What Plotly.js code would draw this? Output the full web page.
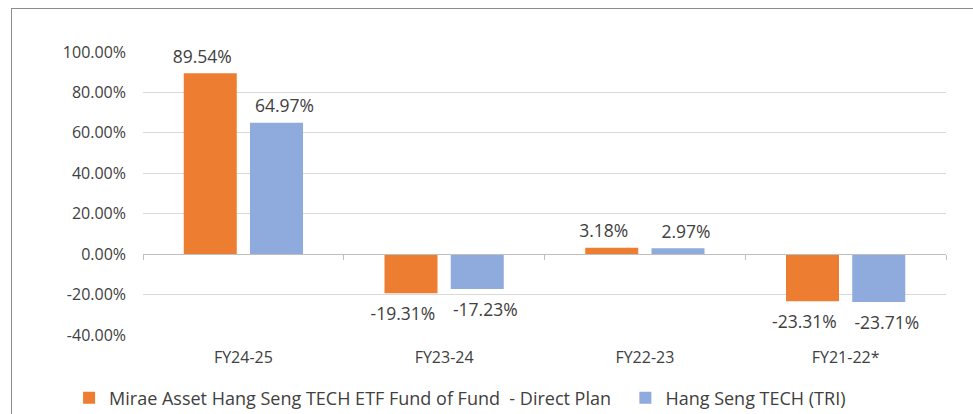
<!DOCTYPE html>
<html>
<head>
<meta charset="utf-8">
<script src="https://cdn.plot.ly/plotly-3.0.1.min.js"></script>
<style>
  html, body { margin: 0; padding: 0; background: #fff; }
  #chart { width: 973px; height: 414px; }
  #frame { position: absolute; left: 11px; top: 8px; width: 980px; height: 430px;
           border-left: 1px solid #8c8c8c; border-top: 1px solid #8c8c8c; pointer-events: none; }
</style>
</head>
<body>
<div id="chart"></div>
<div id="frame"></div>
<script>
const categories = ["FY24-25", "FY23-24", "FY22-23", "FY21-22*"];
const fundName = "Mirae Asset Hang Seng TECH ETF Fund of Fund \u00a0- Direct Plan\u00a0\u00a0";
const benchName = "Hang Seng TECH (TRI)";
const fundValues = [89.54, -19.31, 3.18, -23.31];
const benchValues = [64.97, -17.23, 2.97, -23.71];
const yTickVals = [-40, -20, 0, 20, 40, 60, 80, 100];
const yTickText = ["-40.00%", "-20.00%", "0.00%", "20.00%", "40.00%", "60.00%", "80.00%", "100.00%"];

const ORANGE = "#ED7D31", BLUE = "#8FAADC";
const FONT = "'Open Sans', Lato, sans-serif";
const TXT = "#404040";
const fmt = v => v.toFixed(2) + "%";
const pos = vals => vals.map(v => v >= 0 ? "top center" : "bottom center");
const gapSize = vals => vals.map(v => v >= 0 ? 8 : 20);

const labelTrace = vals => ({
  type: "scatter", mode: "markers+text", x: categories, y: vals,
  text: vals.map(fmt), textposition: pos(vals),
  marker: { size: gapSize(vals), color: "rgba(0,0,0,0)", opacity: 0,
            line: { width: 0, color: "rgba(0,0,0,0)" } },
  showlegend: false, hoverinfo: "skip",
  textfont: { family: FONT, size: 17.5, color: TXT }, cliponaxis: false
});

const traces = [
  { type: "bar", name: fundName, x: categories, y: fundValues,
    marker: { color: ORANGE }, hoverinfo: "skip" },
  { type: "bar", name: benchName, x: categories, y: benchValues,
    marker: { color: BLUE }, hoverinfo: "skip" },
  labelTrace(fundValues),
  labelTrace(benchValues),
  { type: "scatter", mode: "markers", x: categories, y: [null, null, null, null],
    xaxis: "x2", yaxis: "y", showlegend: false, hoverinfo: "skip" }
];

const layout = {
  width: 973, height: 414,
  margin: { l: 143, r: 27, t: 52, b: 79, autoexpand: false },
  paper_bgcolor: "#ffffff", plot_bgcolor: "#ffffff",
  font: { family: FONT, size: 16, color: TXT },
  barmode: "group", bargap: 0.34, bargroupgap: 0.2,
  scattermode: "group", scattergap: 0.18,
  showlegend: true,
  legend: { orientation: "h", xref: "container", yref: "container",
            x: 0.071, xanchor: "left", y: 1 - 398 / 414, yanchor: "middle",
            font: { family: FONT, size: 18, color: TXT }, traceorder: "normal",
            itemwidth: 30 },
  xaxis: { type: "category", categoryarray: categories, range: [-0.5, 3.5],
           showgrid: false, zeroline: false, showline: false, ticks: "",
           ticklabelstandoff: 11,
           tickfont: { family: FONT, size: 16, color: TXT }, fixedrange: true },
  xaxis2: { type: "category", categoryarray: categories, range: [-0.5, 3.5],
            overlaying: "x", anchor: "free", position: 40 / 140,
            showline: true, linecolor: "#BFBFBF", linewidth: 1,
            ticks: "outside", tickson: "boundaries", ticklen: 5, tickcolor: "#BFBFBF",
            showticklabels: false, showgrid: false, zeroline: false, fixedrange: true },
  yaxis: { range: [-40, 100], tickvals: yTickVals, ticktext: yTickText,
           showgrid: true, gridcolor: "#D9D9D9", gridwidth: 1,
           zeroline: false, showline: false, ticks: "", ticklabelstandoff: 16,
           tickfont: { family: FONT, size: 16, color: TXT }, fixedrange: true }
};

Plotly.newPlot("chart", traces, layout, { displayModeBar: false, staticPlot: true });
</script>
</body>
</html>
